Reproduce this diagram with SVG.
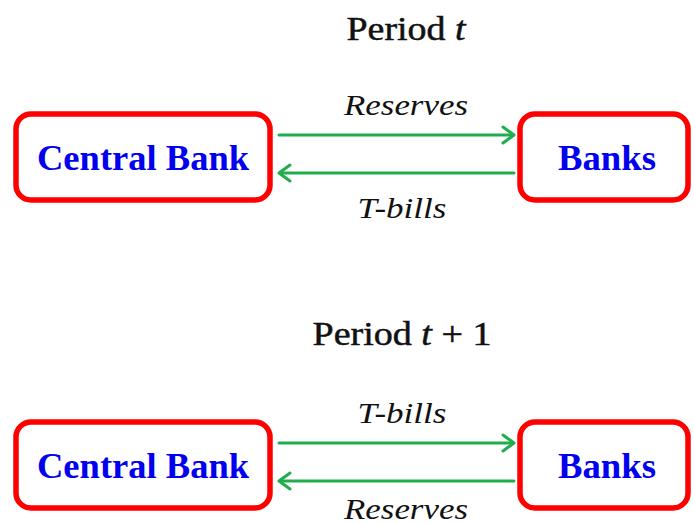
<svg xmlns="http://www.w3.org/2000/svg" width="694" height="524" viewBox="0 0 694 524">
  <defs>
    <style>
      .box { fill: #ffffff; stroke: #ff0000; stroke-width: 5.5; }
      .node { font-family: "Liberation Serif", serif; font-weight: bold; font-size: 35px; fill: #0000ee; text-anchor: middle; }
      .title { font-family: "Liberation Serif", serif; font-size: 34px; fill: #111111; stroke: #111111; stroke-width: 0.5; text-anchor: middle; }
      .flow { font-family: "Liberation Serif", serif; font-style: italic; font-size: 29px; fill: #111111; text-anchor: middle; }
      .arrow { stroke: #1fae4b; stroke-width: 3; fill: none; stroke-linecap: round; }
      .head { stroke: #1fae4b; stroke-width: 3; fill: none; stroke-linecap: round; stroke-linejoin: round; }
    </style>
  </defs>

  <rect width="694" height="524" fill="#ffffff"/>

  <!-- Period t -->
  <text class="title" x="406" y="40" textLength="119" lengthAdjust="spacingAndGlyphs">Period <tspan font-style="italic">t</tspan></text>

  <g id="cb-t">
    <rect class="box" x="16" y="114" width="254" height="86" rx="15"/>
    <text class="node" x="143" y="170" textLength="212" lengthAdjust="spacingAndGlyphs">Central Bank</text>
  </g>
  <g id="banks-t">
    <rect class="box" x="520" y="114" width="168" height="86" rx="15"/>
    <text class="node" x="607" y="170" textLength="98" lengthAdjust="spacingAndGlyphs">Banks</text>
  </g>

  <g id="connectors-t">
    <line class="arrow" x1="279" y1="135" x2="513" y2="135"/>
    <polyline class="head" points="503,127 514,135 503,143"/>
    <line class="arrow" x1="514" y1="173" x2="280" y2="173"/>
    <polyline class="head" points="290,165 279,173 290,181"/>
    <text class="flow" x="406" y="115" textLength="124" lengthAdjust="spacingAndGlyphs">Reserves</text>
    <text class="flow" x="402" y="218" textLength="89" lengthAdjust="spacingAndGlyphs">T-bills</text>
  </g>

  <!-- Period t + 1 -->
  <text class="title" x="402" y="345" textLength="179" lengthAdjust="spacingAndGlyphs">Period <tspan font-style="italic">t</tspan> + 1</text>

  <g id="cb-t1">
    <rect class="box" x="16" y="422" width="254" height="86" rx="15"/>
    <text class="node" x="143" y="478" textLength="212" lengthAdjust="spacingAndGlyphs">Central Bank</text>
  </g>
  <g id="banks-t1">
    <rect class="box" x="520" y="422" width="168" height="86" rx="15"/>
    <text class="node" x="607" y="478" textLength="98" lengthAdjust="spacingAndGlyphs">Banks</text>
  </g>

  <g id="connectors-t1">
    <line class="arrow" x1="279" y1="443" x2="513" y2="443"/>
    <polyline class="head" points="503,435 514,443 503,451"/>
    <line class="arrow" x1="514" y1="481" x2="280" y2="481"/>
    <polyline class="head" points="290,473 279,481 290,489"/>
    <text class="flow" x="402" y="423" textLength="89" lengthAdjust="spacingAndGlyphs">T-bills</text>
    <text class="flow" x="406" y="519" textLength="124" lengthAdjust="spacingAndGlyphs">Reserves</text>
  </g>
</svg>
